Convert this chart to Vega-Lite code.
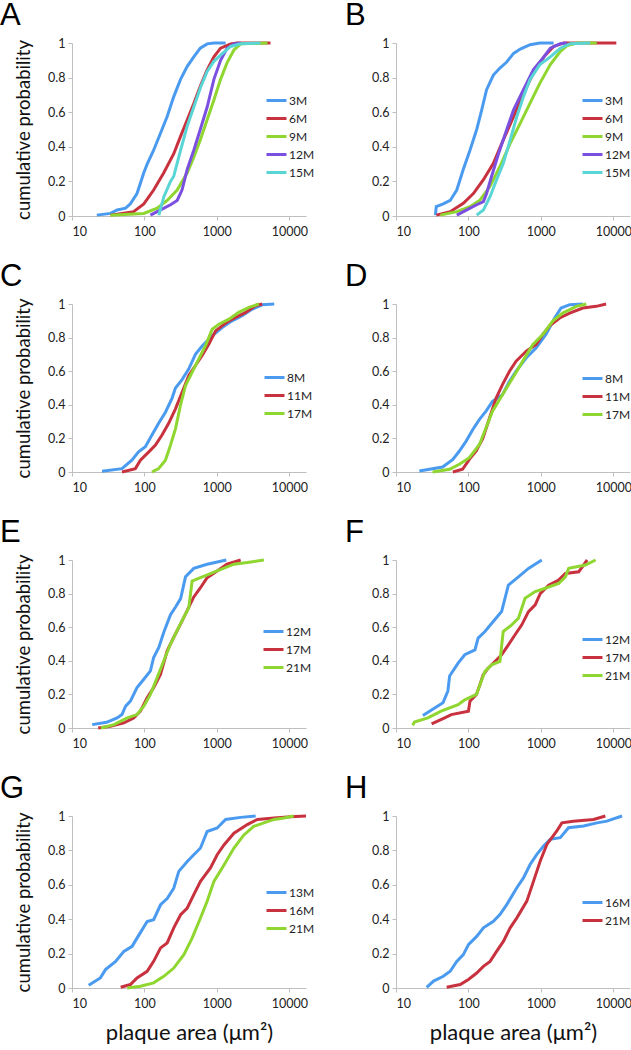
{
"$schema": "https://vega.github.io/schema/vega-lite/v6.json",
"padding": 0,
"config": {
 "font": "Lato",
 "view": {"stroke": null},
 "axis": {"domainColor": "#BFBFBF", "tickColor": "#BFBFBF", "tickSize": 4, "grid": false, "labelFont": "Lato", "labelFontSize": 12.5, "labelColor": "#222222", "titleFont": "Lato", "titleFontWeight": "normal", "titleColor": "#111111"},
 "legend": {"labelFont": "Lato", "labelFontSize": 12, "labelColor": "#222222", "symbolSize": 400, "symbolStrokeWidth": 3, "rowPadding": 0, "labelOffset": 1, "padding": 0, "title": null},
 "title": {"font": "Liberation Sans", "fontSize": 31, "fontWeight": "normal", "anchor": "start", "frame": "group", "color": "#000000", "offset": 5},
 "line": {"strokeWidth": 3, "clip": true}
},
"datasets": {
 "A": [
  {"g":"3M","a":22,"p":0.005},{"g":"3M","a":34,"p":0.015},{"g":"3M","a":42,"p":0.035},{"g":"3M","a":55,"p":0.045},{"g":"3M","a":64,"p":0.07},{"g":"3M","a":79,"p":0.13},{"g":"3M","a":98,"p":0.25},{"g":"3M","a":109,"p":0.3},{"g":"3M","a":134,"p":0.38},{"g":"3M","a":167,"p":0.48},{"g":"3M","a":206,"p":0.575},{"g":"3M","a":254,"p":0.69},{"g":"3M","a":315,"p":0.79},{"g":"3M","a":390,"p":0.865},{"g":"3M","a":480,"p":0.92},{"g":"3M","a":590,"p":0.97},{"g":"3M","a":734,"p":0.995},{"g":"3M","a":910,"p":1},{"g":"3M","a":1320,"p":1},
  {"g":"6M","a":34,"p":0.005},{"g":"6M","a":71,"p":0.025},{"g":"6M","a":98,"p":0.07},{"g":"6M","a":134,"p":0.15},{"g":"6M","a":185,"p":0.25},{"g":"6M","a":254,"p":0.36},{"g":"6M","a":315,"p":0.46},{"g":"6M","a":390,"p":0.556},{"g":"6M","a":480,"p":0.65},{"g":"6M","a":590,"p":0.75},{"g":"6M","a":734,"p":0.845},{"g":"6M","a":910,"p":0.92},{"g":"6M","a":1125,"p":0.97},{"g":"6M","a":1550,"p":0.995},{"g":"6M","a":1900,"p":1},{"g":"6M","a":5500,"p":1},
  {"g":"9M","a":34,"p":0.005},{"g":"9M","a":98,"p":0.015},{"g":"9M","a":150,"p":0.045},{"g":"9M","a":206,"p":0.09},{"g":"9M","a":283,"p":0.15},{"g":"9M","a":390,"p":0.25},{"g":"9M","a":480,"p":0.34},{"g":"9M","a":590,"p":0.44},{"g":"9M","a":734,"p":0.556},{"g":"9M","a":910,"p":0.67},{"g":"9M","a":1125,"p":0.79},{"g":"9M","a":1380,"p":0.885},{"g":"9M","a":1720,"p":0.96},{"g":"9M","a":2130,"p":0.995},{"g":"9M","a":5000,"p":1},
  {"g":"12M","a":121,"p":0.005},{"g":"12M","a":167,"p":0.035},{"g":"12M","a":229,"p":0.065},{"g":"12M","a":283,"p":0.09},{"g":"12M","a":330,"p":0.15},{"g":"12M","a":390,"p":0.27},{"g":"12M","a":480,"p":0.38},{"g":"12M","a":590,"p":0.5},{"g":"12M","a":734,"p":0.63},{"g":"12M","a":910,"p":0.79},{"g":"12M","a":1125,"p":0.9},{"g":"12M","a":1380,"p":0.97},{"g":"12M","a":1720,"p":0.995},{"g":"12M","a":2130,"p":1},
  {"g":"15M","a":158,"p":0.005},{"g":"15M","a":185,"p":0.11},{"g":"15M","a":229,"p":0.2},{"g":"15M","a":254,"p":0.23},{"g":"15M","a":315,"p":0.38},{"g":"15M","a":390,"p":0.52},{"g":"15M","a":480,"p":0.63},{"g":"15M","a":590,"p":0.74},{"g":"15M","a":734,"p":0.836},{"g":"15M","a":910,"p":0.894},{"g":"15M","a":1125,"p":0.93},{"g":"15M","a":1550,"p":0.98},{"g":"15M","a":2130,"p":0.995},{"g":"15M","a":4000,"p":1}
 ],
 "B": [
  {"g":"3M","a":35,"p":0.005},{"g":"3M","a":36,"p":0.055},{"g":"3M","a":45,"p":0.07},{"g":"3M","a":56,"p":0.09},{"g":"3M","a":69,"p":0.15},{"g":"3M","a":85,"p":0.27},{"g":"3M","a":105,"p":0.38},{"g":"3M","a":130,"p":0.5},{"g":"3M","a":152,"p":0.61},{"g":"3M","a":178,"p":0.73},{"g":"3M","a":221,"p":0.815},{"g":"3M","a":272,"p":0.855},{"g":"3M","a":338,"p":0.89},{"g":"3M","a":420,"p":0.94},{"g":"3M","a":520,"p":0.965},{"g":"3M","a":710,"p":0.99},{"g":"3M","a":970,"p":1},{"g":"3M","a":1500,"p":1},
  {"g":"6M","a":36,"p":0.005},{"g":"6M","a":56,"p":0.025},{"g":"6M","a":85,"p":0.073},{"g":"6M","a":117,"p":0.13},{"g":"6M","a":161,"p":0.21},{"g":"6M","a":221,"p":0.305},{"g":"6M","a":303,"p":0.44},{"g":"6M","a":420,"p":0.575},{"g":"6M","a":575,"p":0.71},{"g":"6M","a":790,"p":0.826},{"g":"6M","a":1100,"p":0.92},{"g":"6M","a":1500,"p":0.98},{"g":"6M","a":2050,"p":1},{"g":"6M","a":11000,"p":1},
  {"g":"9M","a":41,"p":0.005},{"g":"9M","a":69,"p":0.025},{"g":"9M","a":105,"p":0.054},{"g":"9M","a":145,"p":0.093},{"g":"9M","a":198,"p":0.17},{"g":"9M","a":272,"p":0.286},{"g":"9M","a":377,"p":0.42},{"g":"9M","a":520,"p":0.537},{"g":"9M","a":710,"p":0.652},{"g":"9M","a":970,"p":0.768},{"g":"9M","a":1350,"p":0.875},{"g":"9M","a":1860,"p":0.952},{"g":"9M","a":2300,"p":0.985},{"g":"9M","a":3160,"p":1},{"g":"9M","a":5900,"p":1},
  {"g":"12M","a":69,"p":0.005},{"g":"12M","a":95,"p":0.035},{"g":"12M","a":130,"p":0.065},{"g":"12M","a":161,"p":0.083},{"g":"12M","a":178,"p":0.13},{"g":"12M","a":209,"p":0.23},{"g":"12M","a":260,"p":0.36},{"g":"12M","a":338,"p":0.5},{"g":"12M","a":420,"p":0.614},{"g":"12M","a":575,"p":0.73},{"g":"12M","a":790,"p":0.846},{"g":"12M","a":1100,"p":0.92},{"g":"12M","a":1350,"p":0.97},{"g":"12M","a":1860,"p":0.996},{"g":"12M","a":2300,"p":1},
  {"g":"15M","a":130,"p":0.005},{"g":"15M","a":161,"p":0.035},{"g":"15M","a":198,"p":0.11},{"g":"15M","a":245,"p":0.21},{"g":"15M","a":303,"p":0.305},{"g":"15M","a":377,"p":0.44},{"g":"15M","a":466,"p":0.575},{"g":"15M","a":575,"p":0.69},{"g":"15M","a":710,"p":0.79},{"g":"15M","a":970,"p":0.875},{"g":"15M","a":1350,"p":0.92},{"g":"15M","a":1860,"p":0.97},{"g":"15M","a":2530,"p":0.996},{"g":"15M","a":4790,"p":1}
 ],
 "C": [
  {"g":"8M","a":26,"p":0.004},{"g":"8M","a":49,"p":0.02},{"g":"8M","a":67,"p":0.07},{"g":"8M","a":83,"p":0.12},{"g":"8M","a":103,"p":0.15},{"g":"8M","a":127,"p":0.22},{"g":"8M","a":157,"p":0.29},{"g":"8M","a":195,"p":0.356},{"g":"8M","a":241,"p":0.44},{"g":"8M","a":268,"p":0.5},{"g":"8M","a":331,"p":0.55},{"g":"8M","a":410,"p":0.614},{"g":"8M","a":506,"p":0.7},{"g":"8M","a":626,"p":0.75},{"g":"8M","a":862,"p":0.81},{"g":"8M","a":1180,"p":0.86},{"g":"8M","a":1620,"p":0.9},{"g":"8M","a":2230,"p":0.93},{"g":"8M","a":3090,"p":0.97},{"g":"8M","a":4240,"p":0.995},{"g":"8M","a":6190,"p":1},
  {"g":"11M","a":49,"p":0},{"g":"11M","a":75,"p":0.02},{"g":"11M","a":88,"p":0.07},{"g":"11M","a":115,"p":0.12},{"g":"11M","a":142,"p":0.16},{"g":"11M","a":175,"p":0.22},{"g":"11M","a":216,"p":0.29},{"g":"11M","a":268,"p":0.376},{"g":"11M","a":331,"p":0.475},{"g":"11M","a":410,"p":0.574},{"g":"11M","a":506,"p":0.634},{"g":"11M","a":626,"p":0.693},{"g":"11M","a":776,"p":0.762},{"g":"11M","a":960,"p":0.84},{"g":"11M","a":1180,"p":0.87},{"g":"11M","a":1470,"p":0.9},{"g":"11M","a":1820,"p":0.92},{"g":"11M","a":2500,"p":0.95},{"g":"11M","a":3400,"p":0.99},{"g":"11M","a":4240,"p":1},
  {"g":"17M","a":127,"p":0},{"g":"17M","a":157,"p":0.02},{"g":"17M","a":195,"p":0.07},{"g":"17M","a":229,"p":0.16},{"g":"17M","a":268,"p":0.257},{"g":"17M","a":314,"p":0.396},{"g":"17M","a":369,"p":0.515},{"g":"17M","a":455,"p":0.594},{"g":"17M","a":563,"p":0.673},{"g":"17M","a":697,"p":0.752},{"g":"17M","a":862,"p":0.85},{"g":"17M","a":1070,"p":0.88},{"g":"17M","a":1470,"p":0.91},{"g":"17M","a":2000,"p":0.95},{"g":"17M","a":2770,"p":0.98},{"g":"17M","a":3800,"p":1}
 ],
 "D": [
  {"g":"8M","a":21,"p":0.006},{"g":"8M","a":44,"p":0.03},{"g":"8M","a":61,"p":0.075},{"g":"8M","a":75,"p":0.125},{"g":"8M","a":93,"p":0.184},{"g":"8M","a":115,"p":0.253},{"g":"8M","a":142,"p":0.313},{"g":"8M","a":175,"p":0.362},{"g":"8M","a":215,"p":0.42},{"g":"8M","a":295,"p":0.46},{"g":"8M","a":369,"p":0.54},{"g":"8M","a":455,"p":0.6},{"g":"8M","a":630,"p":0.68},{"g":"8M","a":862,"p":0.74},{"g":"8M","a":1180,"p":0.82},{"g":"8M","a":1550,"p":0.917},{"g":"8M","a":1900,"p":0.976},{"g":"8M","a":2500,"p":0.996},{"g":"8M","a":3800,"p":1},
  {"g":"11M","a":61,"p":0},{"g":"11M","a":83,"p":0.016},{"g":"11M","a":103,"p":0.075},{"g":"11M","a":128,"p":0.125},{"g":"11M","a":158,"p":0.2},{"g":"11M","a":195,"p":0.32},{"g":"11M","a":241,"p":0.44},{"g":"11M","a":295,"p":0.52},{"g":"11M","a":369,"p":0.6},{"g":"11M","a":455,"p":0.66},{"g":"11M","a":630,"p":0.72},{"g":"11M","a":862,"p":0.76},{"g":"11M","a":1070,"p":0.82},{"g":"11M","a":1320,"p":0.87},{"g":"11M","a":1820,"p":0.917},{"g":"11M","a":2500,"p":0.946},{"g":"11M","a":3800,"p":0.976},{"g":"11M","a":5820,"p":0.986},{"g":"11M","a":7950,"p":1},
  {"g":"17M","a":32,"p":0},{"g":"17M","a":55,"p":0.016},{"g":"17M","a":75,"p":0.046},{"g":"17M","a":103,"p":0.085},{"g":"17M","a":142,"p":0.164},{"g":"17M","a":175,"p":0.263},{"g":"17M","a":215,"p":0.362},{"g":"17M","a":295,"p":0.46},{"g":"17M","a":408,"p":0.56},{"g":"17M","a":563,"p":0.66},{"g":"17M","a":777,"p":0.76},{"g":"17M","a":1070,"p":0.82},{"g":"17M","a":1470,"p":0.9},{"g":"17M","a":2000,"p":0.946},{"g":"17M","a":3090,"p":0.986},{"g":"17M","a":4240,"p":1}
 ],
 "E": [
  {"g":"12M","a":19,"p":0.02},{"g":"12M","a":30,"p":0.034},{"g":"12M","a":42,"p":0.06},{"g":"12M","a":49,"p":0.08},{"g":"12M","a":55,"p":0.13},{"g":"12M","a":64,"p":0.16},{"g":"12M","a":79,"p":0.24},{"g":"12M","a":98,"p":0.29},{"g":"12M","a":121,"p":0.34},{"g":"12M","a":134,"p":0.42},{"g":"12M","a":158,"p":0.48},{"g":"12M","a":185,"p":0.57},{"g":"12M","a":229,"p":0.675},{"g":"12M","a":269,"p":0.72},{"g":"12M","a":316,"p":0.77},{"g":"12M","a":369,"p":0.9},{"g":"12M","a":480,"p":0.95},{"g":"12M","a":734,"p":0.975},{"g":"12M","a":1350,"p":1},
  {"g":"17M","a":23,"p":0},{"g":"17M","a":34,"p":0.01},{"g":"17M","a":52,"p":0.03},{"g":"17M","a":71,"p":0.06},{"g":"17M","a":88,"p":0.1},{"g":"17M","a":109,"p":0.18},{"g":"17M","a":134,"p":0.24},{"g":"17M","a":167,"p":0.32},{"g":"17M","a":206,"p":0.46},{"g":"17M","a":254,"p":0.54},{"g":"17M","a":316,"p":0.62},{"g":"17M","a":390,"p":0.7},{"g":"17M","a":480,"p":0.78},{"g":"17M","a":594,"p":0.835},{"g":"17M","a":734,"p":0.895},{"g":"17M","a":1010,"p":0.935},{"g":"17M","a":1380,"p":0.975},{"g":"17M","a":2130,"p":1},
  {"g":"21M","a":25,"p":0},{"g":"21M","a":38,"p":0.02},{"g":"21M","a":58,"p":0.06},{"g":"21M","a":79,"p":0.08},{"g":"21M","a":98,"p":0.13},{"g":"21M","a":121,"p":0.2},{"g":"21M","a":150,"p":0.3},{"g":"21M","a":185,"p":0.4},{"g":"21M","a":229,"p":0.5},{"g":"21M","a":282,"p":0.58},{"g":"21M","a":350,"p":0.66},{"g":"21M","a":410,"p":0.716},{"g":"21M","a":455,"p":0.875},{"g":"21M","a":594,"p":0.895},{"g":"21M","a":1010,"p":0.935},{"g":"21M","a":1720,"p":0.975},{"g":"21M","a":2630,"p":0.985},{"g":"21M","a":4450,"p":1}
 ],
 "F": [
  {"g":"12M","a":23.5,"p":0.075},{"g":"12M","a":44.5,"p":0.15},{"g":"12M","a":52,"p":0.22},{"g":"12M","a":55,"p":0.31},{"g":"12M","a":72,"p":0.386},{"g":"12M","a":89,"p":0.436},{"g":"12M","a":123,"p":0.465},{"g":"12M","a":136,"p":0.535},{"g":"12M","a":169,"p":0.574},{"g":"12M","a":220,"p":0.634},{"g":"12M","a":287,"p":0.693},{"g":"12M","a":356,"p":0.85},{"g":"12M","a":490,"p":0.9},{"g":"12M","a":675,"p":0.95},{"g":"12M","a":1030,"p":1},
  {"g":"17M","a":31,"p":0.024},{"g":"17M","a":47,"p":0.06},{"g":"17M","a":58,"p":0.08},{"g":"17M","a":100,"p":0.1},{"g":"17M","a":105,"p":0.16},{"g":"17M","a":129,"p":0.2},{"g":"17M","a":144,"p":0.257},{"g":"17M","a":160,"p":0.317},{"g":"17M","a":187,"p":0.356},{"g":"17M","a":232,"p":0.396},{"g":"17M","a":287,"p":0.436},{"g":"17M","a":356,"p":0.495},{"g":"17M","a":440,"p":0.555},{"g":"17M","a":545,"p":0.614},{"g":"17M","a":675,"p":0.693},{"g":"17M","a":835,"p":0.733},{"g":"17M","a":980,"p":0.8},{"g":"17M","a":1280,"p":0.85},{"g":"17M","a":1760,"p":0.88},{"g":"17M","a":2180,"p":0.92},{"g":"17M","a":3330,"p":0.93},{"g":"17M","a":4360,"p":1},
  {"g":"21M","a":17,"p":0.016},{"g":"21M","a":18,"p":0.036},{"g":"21M","a":27.5,"p":0.06},{"g":"21M","a":42,"p":0.1},{"g":"21M","a":72,"p":0.139},{"g":"21M","a":89,"p":0.168},{"g":"21M","a":129,"p":0.2},{"g":"21M","a":144,"p":0.257},{"g":"21M","a":169,"p":0.337},{"g":"21M","a":209,"p":0.376},{"g":"21M","a":272,"p":0.396},{"g":"21M","a":302,"p":0.574},{"g":"21M","a":396,"p":0.614},{"g":"21M","a":490,"p":0.653},{"g":"21M","a":605,"p":0.772},{"g":"21M","a":835,"p":0.812},{"g":"21M","a":1150,"p":0.832},{"g":"21M","a":1760,"p":0.86},{"g":"21M","a":2180,"p":0.9},{"g":"21M","a":2420,"p":0.95},{"g":"21M","a":4130,"p":0.97},{"g":"21M","a":5690,"p":1}
 ],
 "G": [
  {"g":"13M","a":17,"p":0.016},{"g":"13M","a":24.6,"p":0.058},{"g":"13M","a":29,"p":0.107},{"g":"13M","a":40,"p":0.155},{"g":"13M","a":52,"p":0.213},{"g":"13M","a":67.6,"p":0.242},{"g":"13M","a":79,"p":0.29},{"g":"13M","a":109,"p":0.387},{"g":"13M","a":134,"p":0.397},{"g":"13M","a":167,"p":0.484},{"g":"13M","a":206,"p":0.52},{"g":"13M","a":254,"p":0.58},{"g":"13M","a":298,"p":0.678},{"g":"13M","a":390,"p":0.736},{"g":"13M","a":480,"p":0.775},{"g":"13M","a":594,"p":0.814},{"g":"13M","a":734,"p":0.91},{"g":"13M","a":1010,"p":0.93},{"g":"13M","a":1320,"p":0.98},{"g":"13M","a":2130,"p":0.992},{"g":"13M","a":3430,"p":1},
  {"g":"16M","a":47,"p":0.004},{"g":"16M","a":64,"p":0.02},{"g":"16M","a":79,"p":0.058},{"g":"16M","a":109,"p":0.097},{"g":"16M","a":134,"p":0.155},{"g":"16M","a":167,"p":0.233},{"g":"16M","a":206,"p":0.262},{"g":"16M","a":254,"p":0.35},{"g":"16M","a":316,"p":0.426},{"g":"16M","a":390,"p":0.465},{"g":"16M","a":480,"p":0.543},{"g":"16M","a":594,"p":0.62},{"g":"16M","a":815,"p":0.698},{"g":"16M","a":1010,"p":0.775},{"g":"16M","a":1260,"p":0.833},{"g":"16M","a":1720,"p":0.9},{"g":"16M","a":2630,"p":0.95},{"g":"16M","a":3630,"p":0.98},{"g":"16M","a":6170,"p":0.988},{"g":"16M","a":10500,"p":0.996},{"g":"16M","a":17000,"p":1},
  {"g":"21M","a":58,"p":0},{"g":"21M","a":88,"p":0.01},{"g":"21M","a":134,"p":0.03},{"g":"21M","a":185,"p":0.068},{"g":"21M","a":254,"p":0.116},{"g":"21M","a":350,"p":0.194},{"g":"21M","a":455,"p":0.29},{"g":"21M","a":594,"p":0.407},{"g":"21M","a":734,"p":0.504},{"g":"21M","a":910,"p":0.62},{"g":"21M","a":1260,"p":0.717},{"g":"21M","a":1720,"p":0.814},{"g":"21M","a":2360,"p":0.89},{"g":"21M","a":3230,"p":0.94},{"g":"21M","a":4450,"p":0.96},{"g":"21M","a":6170,"p":0.98},{"g":"21M","a":8430,"p":0.988},{"g":"21M","a":11500,"p":1}
 ],
 "H": [
  {"g":"16M","a":26.5,"p":0.004},{"g":"16M","a":33,"p":0.04},{"g":"16M","a":45,"p":0.068},{"g":"16M","a":56,"p":0.097},{"g":"16M","a":69,"p":0.155},{"g":"16M","a":85,"p":0.194},{"g":"16M","a":100,"p":0.252},{"g":"16M","a":130,"p":0.3},{"g":"16M","a":161,"p":0.35},{"g":"16M","a":221,"p":0.388},{"g":"16M","a":272,"p":0.427},{"g":"16M","a":338,"p":0.485},{"g":"16M","a":466,"p":0.583},{"g":"16M","a":575,"p":0.64},{"g":"16M","a":710,"p":0.718},{"g":"16M","a":880,"p":0.777},{"g":"16M","a":1090,"p":0.825},{"g":"16M","a":1340,"p":0.864},{"g":"16M","a":1850,"p":0.874},{"g":"16M","a":2410,"p":0.932},{"g":"16M","a":3890,"p":0.942},{"g":"16M","a":5940,"p":0.96},{"g":"16M","a":8130,"p":0.97},{"g":"16M","a":13200,"p":1},
  {"g":"21M","a":50,"p":0.004},{"g":"21M","a":77,"p":0.02},{"g":"21M","a":100,"p":0.05},{"g":"21M","a":130,"p":0.087},{"g":"21M","a":161,"p":0.126},{"g":"21M","a":199,"p":0.155},{"g":"21M","a":246,"p":0.214},{"g":"21M","a":305,"p":0.272},{"g":"21M","a":377,"p":0.35},{"g":"21M","a":466,"p":0.408},{"g":"21M","a":640,"p":0.505},{"g":"21M","a":790,"p":0.62},{"g":"21M","a":980,"p":0.738},{"g":"21M","a":1210,"p":0.835},{"g":"21M","a":1660,"p":0.913},{"g":"21M","a":1950,"p":0.96},{"g":"21M","a":2800,"p":0.97},{"g":"21M","a":5350,"p":0.98},{"g":"21M","a":7770,"p":1}
 ]
},
"columns": 2,
"spacing": {"row": 88, "column": 90},
"bounds": "flush",
"resolve": {"scale": {"color": "independent", "x": "independent", "y": "independent"}, "legend": {"color": "independent"}},
"concat": [
 {"title": {"text": "A", "dx": -72}, "data": {"name": "A"}, "width": 234, "height": 173, "mark": "line",
  "encoding": {
   "x": {"field": "a", "type": "quantitative", "scale": {"type": "log", "domain": [10, 17000], "nice": false}, "axis": {"values": [10, 100, 1000, 10000], "format": "d", "labelPadding": 5, "title": null}},
   "y": {"field": "p", "type": "quantitative", "scale": {"domain": [0, 1], "nice": false}, "axis": {"values": [0, 0.2, 0.4, 0.6, 0.8, 1], "format": "~g", "labelPadding": 3, "title": "cumulative probability", "titleFontSize": 18.5, "titlePadding": 14}},
   "color": {"field": "g", "type": "nominal", "scale": {"domain": ["3M", "6M", "9M", "12M", "15M"], "range": ["#4A9BF0", "#C8323F", "#8FD630", "#7B50E0", "#5AD5D5"]}, "legend": {"orient": "none", "legendX": 193, "legendY": 46}}
  }},
 {"title": {"text": "B", "dx": -51}, "data": {"name": "B"}, "width": 234, "height": 173, "mark": "line",
  "encoding": {
   "x": {"field": "a", "type": "quantitative", "scale": {"type": "log", "domain": [10, 17000], "nice": false}, "axis": {"values": [10, 100, 1000, 10000], "format": "d", "labelPadding": 5, "title": null}},
   "y": {"field": "p", "type": "quantitative", "scale": {"domain": [0, 1], "nice": false}, "axis": {"values": [0, 0.2, 0.4, 0.6, 0.8, 1], "format": "~g", "labelPadding": 3, "title": null}},
   "color": {"field": "g", "type": "nominal", "scale": {"domain": ["3M", "6M", "9M", "12M", "15M"], "range": ["#4A9BF0", "#C8323F", "#8FD630", "#7B50E0", "#5AD5D5"]}, "legend": {"orient": "none", "legendX": 185, "legendY": 46}}
  }},
 {"title": {"text": "C", "dx": -72}, "data": {"name": "C"}, "width": 234, "height": 168, "mark": "line",
  "encoding": {
   "x": {"field": "a", "type": "quantitative", "scale": {"type": "log", "domain": [10, 17000], "nice": false}, "axis": {"values": [10, 100, 1000, 10000], "format": "d", "labelPadding": 5, "title": null}},
   "y": {"field": "p", "type": "quantitative", "scale": {"domain": [0, 1], "nice": false}, "axis": {"values": [0, 0.2, 0.4, 0.6, 0.8, 1], "format": "~g", "labelPadding": 3, "title": "cumulative probability", "titleFontSize": 18.5, "titlePadding": 14}},
   "color": {"field": "g", "type": "nominal", "scale": {"domain": ["8M", "11M", "17M"], "range": ["#4A9BF0", "#C8323F", "#8FD630"]}, "legend": {"orient": "none", "legendX": 191, "legendY": 62}}
  }},
 {"title": {"text": "D", "dx": -51}, "data": {"name": "D"}, "width": 234, "height": 168, "mark": "line",
  "encoding": {
   "x": {"field": "a", "type": "quantitative", "scale": {"type": "log", "domain": [10, 17000], "nice": false}, "axis": {"values": [10, 100, 1000, 10000], "format": "d", "labelPadding": 5, "title": null}},
   "y": {"field": "p", "type": "quantitative", "scale": {"domain": [0, 1], "nice": false}, "axis": {"values": [0, 0.2, 0.4, 0.6, 0.8, 1], "format": "~g", "labelPadding": 3, "title": null}},
   "color": {"field": "g", "type": "nominal", "scale": {"domain": ["8M", "11M", "17M"], "range": ["#4A9BF0", "#C8323F", "#8FD630"]}, "legend": {"orient": "none", "legendX": 185, "legendY": 63}}
  }},
 {"title": {"text": "E", "dx": -72}, "data": {"name": "E"}, "width": 234, "height": 168, "mark": "line",
  "encoding": {
   "x": {"field": "a", "type": "quantitative", "scale": {"type": "log", "domain": [10, 17000], "nice": false}, "axis": {"values": [10, 100, 1000, 10000], "format": "d", "labelPadding": 5, "title": null}},
   "y": {"field": "p", "type": "quantitative", "scale": {"domain": [0, 1], "nice": false}, "axis": {"values": [0, 0.2, 0.4, 0.6, 0.8, 1], "format": "~g", "labelPadding": 3, "title": "cumulative probability", "titleFontSize": 18.5, "titlePadding": 14}},
   "color": {"field": "g", "type": "nominal", "scale": {"domain": ["12M", "17M", "21M"], "range": ["#4A9BF0", "#C8323F", "#8FD630"]}, "legend": {"orient": "none", "legendX": 190, "legendY": 60}}
  }},
 {"title": {"text": "F", "dx": -51}, "data": {"name": "F"}, "width": 234, "height": 168, "mark": "line",
  "encoding": {
   "x": {"field": "a", "type": "quantitative", "scale": {"type": "log", "domain": [10, 17000], "nice": false}, "axis": {"values": [10, 100, 1000, 10000], "format": "d", "labelPadding": 5, "title": null}},
   "y": {"field": "p", "type": "quantitative", "scale": {"domain": [0, 1], "nice": false}, "axis": {"values": [0, 0.2, 0.4, 0.6, 0.8, 1], "format": "~g", "labelPadding": 3, "title": null}},
   "color": {"field": "g", "type": "nominal", "scale": {"domain": ["12M", "17M", "21M"], "range": ["#4A9BF0", "#C8323F", "#8FD630"]}, "legend": {"orient": "none", "legendX": 185, "legendY": 68}}
  }},
 {"title": {"text": "G", "dx": -72}, "data": {"name": "G"}, "width": 234, "height": 172, "mark": "line",
  "encoding": {
   "x": {"field": "a", "type": "quantitative", "scale": {"type": "log", "domain": [10, 17000], "nice": false}, "axis": {"values": [10, 100, 1000, 10000], "format": "d", "labelPadding": 5, "title": "plaque area (μm²)", "titleFontSize": 22, "titlePadding": 13}},
   "y": {"field": "p", "type": "quantitative", "scale": {"domain": [0, 1], "nice": false}, "axis": {"values": [0, 0.2, 0.4, 0.6, 0.8, 1], "format": "~g", "labelPadding": 3, "title": "cumulative probability", "titleFontSize": 18.5, "titlePadding": 14}},
   "color": {"field": "g", "type": "nominal", "scale": {"domain": ["13M", "16M", "21M"], "range": ["#4A9BF0", "#C8323F", "#8FD630"]}, "legend": {"orient": "none", "legendX": 193, "legendY": 65}}
  }},
 {"title": {"text": "H", "dx": -51}, "data": {"name": "H"}, "width": 234, "height": 172, "mark": "line",
  "encoding": {
   "x": {"field": "a", "type": "quantitative", "scale": {"type": "log", "domain": [10, 17000], "nice": false}, "axis": {"values": [10, 100, 1000, 10000], "format": "d", "labelPadding": 5, "title": "plaque area (μm²)", "titleFontSize": 22, "titlePadding": 13}},
   "y": {"field": "p", "type": "quantitative", "scale": {"domain": [0, 1], "nice": false}, "axis": {"values": [0, 0.2, 0.4, 0.6, 0.8, 1], "format": "~g", "labelPadding": 3, "title": null}},
   "color": {"field": "g", "type": "nominal", "scale": {"domain": ["16M", "21M"], "range": ["#4A9BF0", "#C8323F"]}, "legend": {"orient": "none", "legendX": 185, "legendY": 75}}
  }}
]
}
